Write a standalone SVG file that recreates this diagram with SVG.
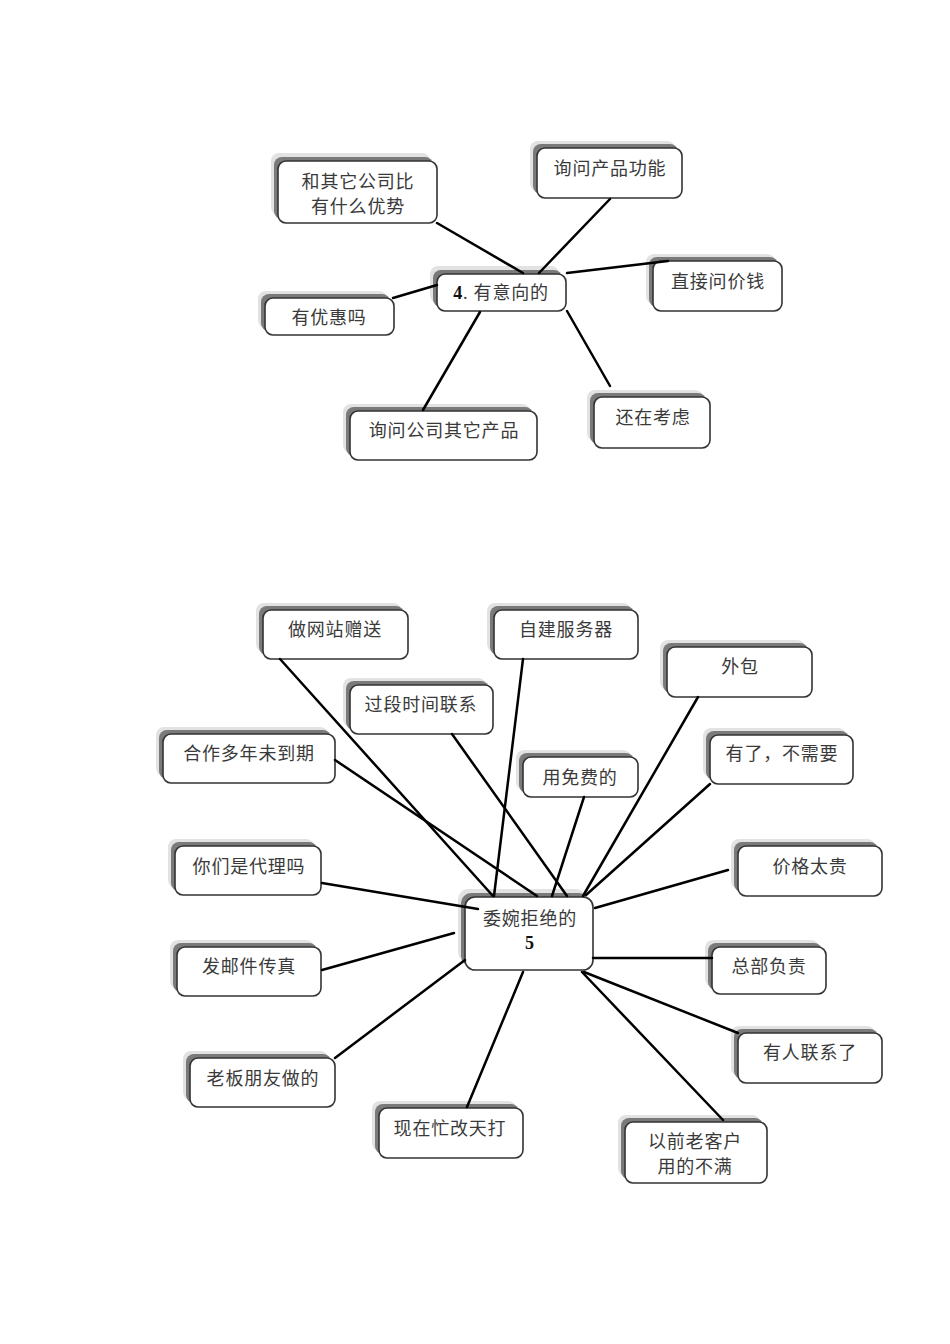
<svg xmlns="http://www.w3.org/2000/svg" width="950" height="1344" viewBox="0 0 950 1344">
<style>
.sh1{fill:#e2e2e2}
.sh2{fill:#7a7a7a}
.box{fill:#fff;stroke:#333;stroke-width:1.6}
.t{font-family:"Liberation Serif","Noto Sans CJK SC",serif;font-size:18px;fill:#3a3a3a;text-anchor:middle;letter-spacing:0.8px}
.b{font-weight:bold;fill:#111}
.c line{stroke:#000;stroke-width:2.5;stroke-linecap:round}
</style>
<rect width="950" height="1344" fill="#fff"/>

<!-- Top diagram -->
<g id="n-bijiao">
<rect class="sh1" x="271" y="153" width="159" height="62" rx="8"/><rect class="sh2" x="274" y="157" width="159" height="62" rx="8"/>
<rect class="box" x="278" y="161" width="159" height="62" rx="8"/>
<text class="t" x="358" y="188">和其它公司比</text><text class="t" x="358" y="213">有什么优势</text>
</g>
<g id="n-gongneng">
<rect class="sh1" x="530" y="141" width="145" height="50" rx="8"/><rect class="sh2" x="533" y="144" width="145" height="50" rx="8"/>
<rect class="box" x="537" y="148" width="145" height="50" rx="8"/>
<text class="t" x="610" y="175">询问产品功能</text>
</g>
<g id="n-youyixiang">
<rect class="sh1" x="430" y="266" width="129" height="37" rx="8"/><rect class="sh2" x="433" y="270" width="129" height="37" rx="8"/>
<rect class="box" x="437" y="274" width="129" height="37" rx="8"/>
<text class="t" x="501" y="299"><tspan class="b">4</tspan>. 有意向的</text>
</g>
<g id="n-jiaqian">
<rect class="sh1" x="646" y="254" width="129" height="50" rx="8"/><rect class="sh2" x="649" y="257" width="129" height="50" rx="8"/>
<rect class="box" x="653" y="261" width="129" height="50" rx="8"/>
<text class="t" x="718" y="288">直接问价钱</text>
</g>
<g id="n-youhui">
<rect class="sh1" x="258" y="291" width="129" height="37" rx="8"/><rect class="sh2" x="261" y="294" width="129" height="37" rx="8"/>
<rect class="box" x="265" y="298" width="129" height="37" rx="8"/>
<text class="t" x="329" y="324">有优惠吗</text>
</g>
<g id="n-qitachanpin">
<rect class="sh1" x="343" y="404" width="187" height="49" rx="8"/><rect class="sh2" x="346" y="407" width="187" height="49" rx="8"/>
<rect class="box" x="350" y="411" width="187" height="49" rx="8"/>
<text class="t" x="444" y="437">询问公司其它产品</text>
</g>
<g id="n-kaolv">
<rect class="sh1" x="587" y="390" width="116" height="51" rx="8"/><rect class="sh2" x="590" y="393" width="116" height="51" rx="8"/>
<rect class="box" x="594" y="397" width="116" height="51" rx="8"/>
<text class="t" x="653" y="424">还在考虑</text>
</g>

<!-- Bottom diagram -->
<g id="n-zengsong">
<rect class="sh1" x="256" y="603" width="145" height="49" rx="8"/><rect class="sh2" x="259" y="606" width="145" height="49" rx="8"/>
<rect class="box" x="263" y="610" width="145" height="49" rx="8"/>
<text class="t" x="335" y="636">做网站赠送</text>
</g>
<g id="n-zijian">
<rect class="sh1" x="487" y="603" width="144" height="49" rx="8"/><rect class="sh2" x="490" y="606" width="144" height="49" rx="8"/>
<rect class="box" x="494" y="610" width="144" height="49" rx="8"/>
<text class="t" x="566" y="636">自建服务器</text>
</g>
<g id="n-waibao">
<rect class="sh1" x="660" y="640" width="145" height="50" rx="8"/><rect class="sh2" x="663" y="643" width="145" height="50" rx="8"/>
<rect class="box" x="667" y="647" width="145" height="50" rx="8"/>
<text class="t" x="740" y="673">外包</text>
</g>
<g id="n-guoduan">
<rect class="sh1" x="343" y="678" width="143" height="49" rx="8"/><rect class="sh2" x="346" y="681" width="143" height="49" rx="8"/>
<rect class="box" x="350" y="685" width="143" height="49" rx="8"/>
<text class="t" x="421" y="711">过段时间联系</text>
</g>
<g id="n-hezuo">
<rect class="sh1" x="156" y="727" width="172" height="49" rx="8"/><rect class="sh2" x="159" y="730" width="172" height="49" rx="8"/>
<rect class="box" x="163" y="734" width="172" height="49" rx="8"/>
<text class="t" x="249" y="760">合作多年未到期</text>
</g>
<g id="n-mianfei">
<rect class="sh1" x="516" y="750" width="115" height="40" rx="8"/><rect class="sh2" x="519" y="753" width="115" height="40" rx="8"/>
<rect class="box" x="523" y="757" width="115" height="40" rx="8"/>
<text class="t" x="580" y="784">用免费的</text>
</g>
<g id="n-buxuyao">
<rect class="sh1" x="703" y="728" width="143" height="49" rx="8"/><rect class="sh2" x="706" y="731" width="143" height="49" rx="8"/>
<rect class="box" x="710" y="735" width="143" height="49" rx="8"/>
<text class="t" x="782" y="760">有了，不需要</text>
</g>
<g id="n-daili">
<rect class="sh1" x="168" y="839" width="146" height="49" rx="8"/><rect class="sh2" x="171" y="842" width="146" height="49" rx="8"/>
<rect class="box" x="175" y="846" width="146" height="49" rx="8"/>
<text class="t" x="249" y="873">你们是代理吗</text>
</g>
<g id="n-taigui">
<rect class="sh1" x="731" y="839" width="144" height="50" rx="8"/><rect class="sh2" x="734" y="842" width="144" height="50" rx="8"/>
<rect class="box" x="738" y="846" width="144" height="50" rx="8"/>
<text class="t" x="810" y="873">价格太贵</text>
</g>
<g id="n-weiwan">
<rect class="sh1" x="458" y="889" width="128" height="73" rx="10"/><rect class="sh2" x="461" y="893" width="128" height="73" rx="10"/>
<rect class="box" x="465" y="897" width="128" height="73" rx="10"/>
<text class="t" x="530" y="925">委婉拒绝的</text><text class="t b" x="530" y="949">5</text>
</g>
<g id="n-youjian">
<rect class="sh1" x="170" y="940" width="144" height="49" rx="8"/><rect class="sh2" x="173" y="943" width="144" height="49" rx="8"/>
<rect class="box" x="177" y="947" width="144" height="49" rx="8"/>
<text class="t" x="249" y="973">发邮件传真</text>
</g>
<g id="n-zongbu">
<rect class="sh1" x="705" y="940" width="114" height="47" rx="8"/><rect class="sh2" x="708" y="943" width="114" height="47" rx="8"/>
<rect class="box" x="712" y="947" width="114" height="47" rx="8"/>
<text class="t" x="769" y="973">总部负责</text>
</g>
<g id="n-laoban">
<rect class="sh1" x="183" y="1051" width="145" height="49" rx="8"/><rect class="sh2" x="186" y="1054" width="145" height="49" rx="8"/>
<rect class="box" x="190" y="1058" width="145" height="49" rx="8"/>
<text class="t" x="263" y="1085">老板朋友做的</text>
</g>
<g id="n-youren">
<rect class="sh1" x="731" y="1026" width="144" height="50" rx="8"/><rect class="sh2" x="734" y="1029" width="144" height="50" rx="8"/>
<rect class="box" x="738" y="1033" width="144" height="50" rx="8"/>
<text class="t" x="810" y="1059">有人联系了</text>
</g>
<g id="n-mang">
<rect class="sh1" x="372" y="1101" width="144" height="50" rx="8"/><rect class="sh2" x="375" y="1104" width="144" height="50" rx="8"/>
<rect class="box" x="379" y="1108" width="144" height="50" rx="8"/>
<text class="t" x="450" y="1135">现在忙改天打</text>
</g>
<g id="n-laokehu">
<rect class="sh1" x="618" y="1115" width="142" height="61" rx="8"/><rect class="sh2" x="621" y="1118" width="142" height="61" rx="8"/>
<rect class="box" x="625" y="1122" width="142" height="61" rx="8"/>
<text class="t" x="695" y="1148">以前老客户</text><text class="t" x="695" y="1173">用的不满</text>
</g>

<g id="connectors" class="c">
<line x1="437" y1="223" x2="523" y2="273"/>
<line x1="610" y1="199" x2="539" y2="273"/>
<line x1="567" y1="273" x2="668" y2="261"/>
<line x1="437" y1="285" x2="393" y2="298"/>
<line x1="480" y1="312" x2="423" y2="410"/>
<line x1="567" y1="311" x2="610" y2="386"/>

<line x1="280" y1="659" x2="493" y2="896"/>
<line x1="335" y1="760" x2="537" y2="896"/>
<line x1="523" y1="659" x2="494" y2="896"/>
<line x1="452" y1="734" x2="567" y2="896"/>
<line x1="584" y1="797" x2="552" y2="896"/>
<line x1="698" y1="697" x2="583" y2="896"/>
<line x1="710" y1="784" x2="586" y2="895"/>
<line x1="728" y1="870" x2="595" y2="908"/>
<line x1="322" y1="883" x2="478" y2="909"/>
<line x1="322" y1="970" x2="454" y2="933"/>
<line x1="335" y1="1058" x2="465" y2="960"/>
<line x1="467" y1="1107" x2="523" y2="972"/>
<line x1="723" y1="1120" x2="582" y2="972"/>
<line x1="738" y1="1033" x2="584" y2="972"/>
<line x1="593" y1="958" x2="712" y2="958"/>
</g>
</svg>
